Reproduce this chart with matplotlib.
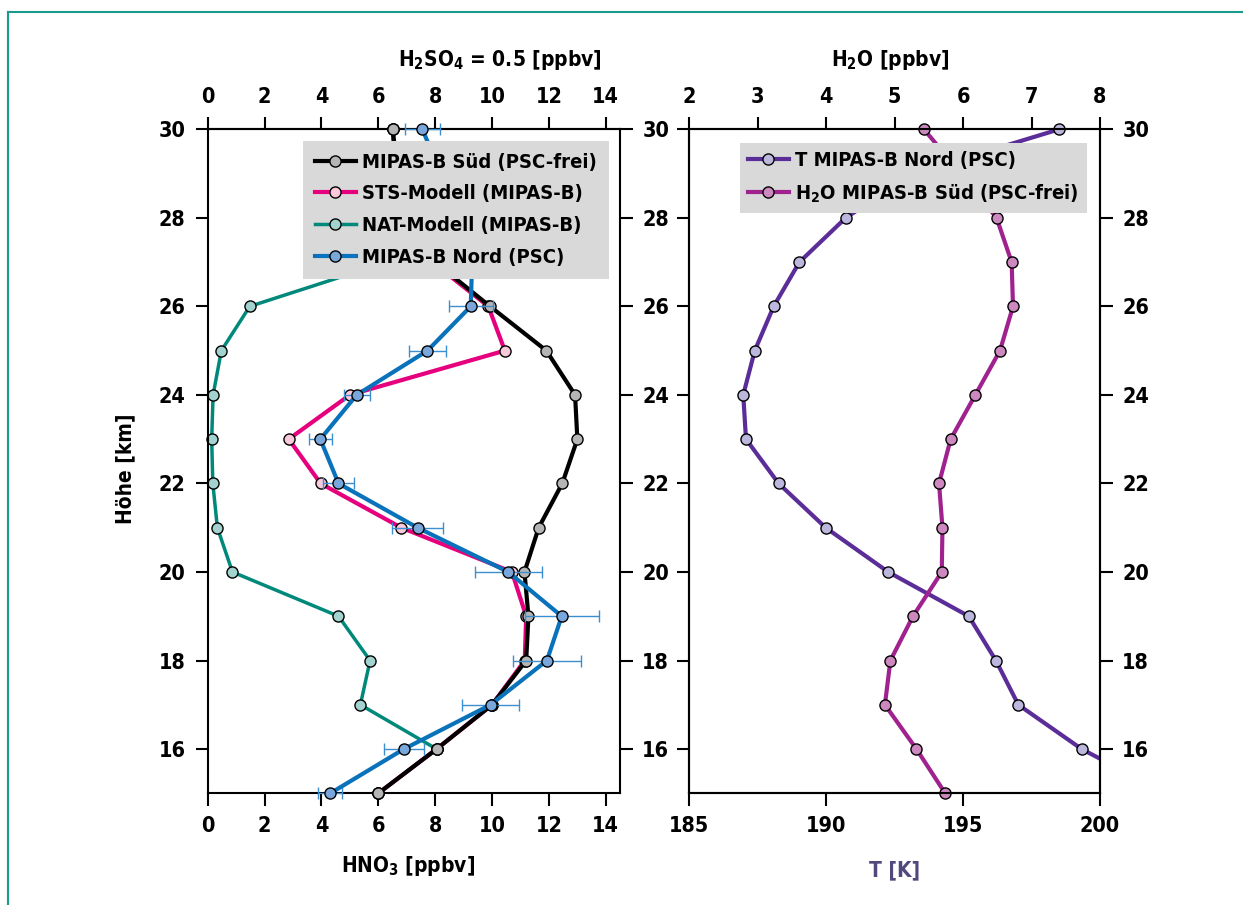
import matplotlib
matplotlib.use('Agg')
import matplotlib.pyplot as plt
from matplotlib.lines import Line2D

plt.rcParams['font.family'] = ['DejaVu Sans']
plt.rcParams['font.stretch'] = 'condensed'
plt.rcParams['font.weight'] = 'bold'
plt.rcParams['mathtext.fontset'] = 'custom'
plt.rcParams['mathtext.rm'] = 'DejaVu Sans:weight=bold:stretch=condensed'
plt.rcParams['mathtext.default'] = 'rm'

# altitude levels [km]
hoehe = [15, 16, 17, 18, 19, 20, 21, 22, 23, 24, 25, 26, 27, 28, 29, 30]

# HNO3 profiles [ppbv]
hno3_sued = [6.0, 8.05, 10.0, 11.2, 11.28, 11.14, 11.64, 12.47, 13.0, 12.92, 11.91, 9.93, 8.0, 7.2, 6.7, 6.5]
hno3_sts = [6.0, 8.05, 10.0, 11.15, 11.2, 10.7, 6.81, 3.97, 2.85, 5.0, 10.45, 9.87, 7.9, 7.1, 6.65, 6.5]
hno3_nat = [6.0, 8.05, 5.37, 5.71, 4.6, 0.87, 0.34, 0.18, 0.14, 0.19, 0.48, 1.48, 6.3, 6.6, 6.6, 6.5]
hno3_nord = [4.31, 6.9, 9.95, 11.93, 12.45, 10.57, 7.38, 4.6, 3.96, 5.24, 7.73, 9.25, 9.3, 8.9, 8.2, 7.55]
hno3_nord_err = [0.43, 0.71, 1.0, 1.2, 1.3, 1.18, 0.9, 0.55, 0.41, 0.46, 0.65, 0.77, 0.7, 0.7, 0.65, 0.62]

# temperature [K] and water vapour [ppbv]
temp_nord = [202.4, 199.33, 197.02, 196.2, 195.21, 192.27, 189.99, 188.27, 187.08, 186.98, 187.4, 188.09, 189.03, 190.72, 193.2, 198.51]
h2o_sued = [5.74, 5.32, 4.86, 4.94, 5.27, 5.69, 5.70, 5.65, 5.82, 6.18, 6.54, 6.73, 6.71, 6.49, 5.97, 5.43]

W, H = 1243, 905
fig = plt.figure(figsize=(W / 100, H / 100), dpi=100)

def px2fig(x0, y0, x1, y1):
    return [x0 / W, 1 - y1 / H, (x1 - x0) / W, (y1 - y0) / H]

ax = fig.add_axes(px2fig(207.7, 129.3, 620, 793.3))
axr = fig.add_axes(px2fig(689, 129.3, 1100, 793.3))

ms = 8
fs_tick = 15.5
fs_lab = 15
fs_leg = 14.5
tick_kw = dict(direction='out', length=9, width=1.5, labelsize=fs_tick, pad=7)
leg_kw = dict(loc='upper right', fontsize=fs_leg, frameon=True, fancybox=False,
              facecolor='#d9d9d9', edgecolor='none', framealpha=1,
              handlelength=2.0, handletextpad=0.33, labelspacing=0.63, borderaxespad=0)

# left panel: HNO3
ax.plot(hno3_nat, hoehe, color='#00897b', lw=2.5, marker='o', ms=ms, mfc='#a3d3cf', mec='black', mew=1,
        zorder=2, clip_on=False, label='NAT-Modell (MIPAS-B)')
ax.plot(hno3_sts, hoehe, color='#e6007e', lw=3, marker='o', ms=ms, mfc='#f8cadc', mec='black', mew=1,
        zorder=3, clip_on=False, label='STS-Modell (MIPAS-B)')
ax.plot(hno3_sued, hoehe, color='black', lw=3, marker='o', ms=ms, mfc='#b5b5b5', mec='black', mew=1,
        zorder=4, clip_on=False, label='MIPAS-B Süd (PSC-frei)')
ax.errorbar(hno3_nord, hoehe, xerr=hno3_nord_err, fmt='none', ecolor='#3b8fd0', elinewidth=1,
            capsize=4.5, capthick=1, zorder=4.5, clip_on=False)
ax.plot(hno3_nord, hoehe, color='#0a72ba', lw=3, marker='o', ms=ms, mfc='#79a6db', mec='black', mew=1,
        zorder=5, clip_on=False, label='MIPAS-B Nord (PSC)')

ax.set_xlim(0, 14.5)
ax.set_ylim(15, 30)
ax.set_xticks(range(0, 15, 2))
ax.set_yticks(range(16, 31, 2))
ax.tick_params(axis='both', left=True, right=True, labelright=True, **tick_kw)
for s in ax.spines.values():
    s.set_linewidth(1.5)

sec = ax.secondary_xaxis('top')
sec.set_xticks(range(0, 15, 2))
sec.tick_params(**tick_kw)
sec.spines['top'].set_linewidth(1.5)

handles, labels = ax.get_legend_handles_labels()
order = [2, 1, 0, 3]
leg = ax.legend([handles[i] for i in order], [labels[i] for i in order],
                bbox_to_anchor=(0.9733, 0.9828), borderpad=0.6, **leg_kw)
leg.set_zorder(10)

# right panel: T and H2O
axr.plot(temp_nord, hoehe, color='#5b2d99', lw=3, zorder=3)
axr.plot(temp_nord, hoehe, ls='none', marker='o', ms=ms, mfc='#bcb8dd', mec='black', mew=1,
         markevery=list(range(1, len(hoehe))), zorder=3, clip_on=False)
axr.set_xlim(185, 200)
axr.set_ylim(15, 30)
axr.set_xticks([185, 190, 195, 200])
axr.set_yticks(range(16, 31, 2))
axr.tick_params(axis='both', left=True, right=True, labelleft=False, labelright=True, **tick_kw)
for s in axr.spines.values():
    s.set_linewidth(1.5)

axh = axr.twiny()
axh.plot(h2o_sued, hoehe, color='#a0228f', lw=3, marker='o', ms=ms, mfc='#cd89bf', mec='black', mew=1,
         zorder=2, clip_on=False)
axh.set_xlim(2, 8)
axh.set_xticks(range(2, 9))
axh.tick_params(**tick_kw)
for s in axh.spines.values():
    s.set_linewidth(1.5)

h_t = Line2D([], [], color='#5b2d99', lw=3, marker='o', ms=ms, mfc='#bcb8dd', mec='black', mew=1)
h_w = Line2D([], [], color='#a0228f', lw=3, marker='o', ms=ms, mfc='#cd89bf', mec='black', mew=1)
leg2 = axh.legend([h_t, h_w], ['T MIPAS-B Nord (PSC)', 'H$_2$O MIPAS-B Süd (PSC-frei)'],
                  bbox_to_anchor=(0.9684, 0.9798), borderpad=0.4, **leg_kw)
leg2.set_zorder(10)

# axis titles
fig.text(500 / W, 1 - 60 / H, 'H$_2$SO$_4$ = 0.5 [ppbv]', ha='center', va='center', fontsize=fs_lab)
fig.text(890 / W, 1 - 60 / H, 'H$_2$O [ppbv]', ha='center', va='center', fontsize=fs_lab)
fig.text(408 / W, 1 - 866 / H, 'HNO$_3$ [ppbv]', ha='center', va='center', fontsize=fs_lab)
fig.text(895 / W, 1 - 870 / H, 'T [K]', ha='center', va='center', fontsize=fs_lab, color='#51497e')
fig.text(125 / W, 1 - 469 / H, 'Höhe [km]', ha='center', va='center', rotation=90, fontsize=fs_lab)

# teal frame (top and left edge)
fig.add_artist(Line2D([8 / W, 1], [1 - 12 / H, 1 - 12 / H], color='#1a9a8a', lw=1.5))
fig.add_artist(Line2D([8 / W, 8 / W], [0, 1 - 12 / H], color='#1a9a8a', lw=1.5))

fig.savefig('out.png', dpi=100)
